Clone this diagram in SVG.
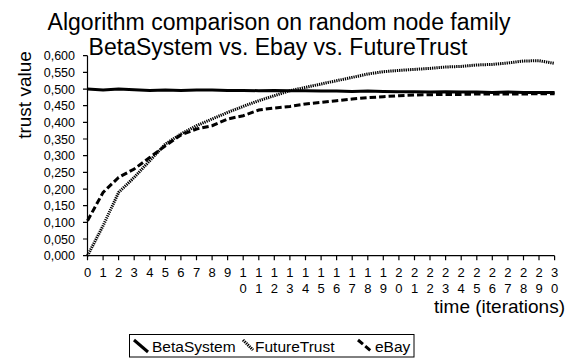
<svg xmlns="http://www.w3.org/2000/svg" width="575" height="358" viewBox="0 0 575 358">
<style>
text{font-family:"Liberation Sans",Arial,sans-serif;fill:#000}
.title{font-size:23px;text-anchor:middle}
.ax{font-size:19px}
.yl{font-size:12.5px;text-anchor:end}
.xl{font-size:13px;text-anchor:middle}
.lg{font-size:15.5px}
.axis{stroke:#000;stroke-width:1.2;fill:none}
.beta{stroke:#000;stroke-width:3;fill:none}
.ft{stroke:#000;stroke-width:3;fill:none;stroke-dasharray:1.3 0.9}
.eb{stroke:#000;stroke-width:3;fill:none;stroke-dasharray:6.5 3}
</style>
<rect width="575" height="358" fill="#fff"/>
<g id="title">
<text class="title" x="279" y="30">Algorithm comparison on random node family</text>
<text class="title" x="278" y="55">BetaSystem vs. Ebay vs. FutureTrust</text>
</g>
<g id="y-axis">
<text class="ax" transform="translate(31,95) rotate(-90)" text-anchor="middle">trust value</text>
<path class="axis" d="M87.5,55.7V255.7M83,55.7H87.5M83,72.4H87.5M83,89.1H87.5M83,105.7H87.5M83,122.4H87.5M83,139H87.5M83,155.7H87.5M83,172.4H87.5M83,189.1H87.5M83,205.7H87.5M83,222.4H87.5M83,239H87.5M83,255.7H87.5"/>
<text class="yl" x="75" y="60.2">0,600</text>
<text class="yl" x="75" y="76.9">0,550</text>
<text class="yl" x="75" y="93.6">0,500</text>
<text class="yl" x="75" y="110.2">0,450</text>
<text class="yl" x="75" y="126.9">0,400</text>
<text class="yl" x="75" y="143.5">0,350</text>
<text class="yl" x="75" y="160.2">0,300</text>
<text class="yl" x="75" y="176.9">0,250</text>
<text class="yl" x="75" y="193.6">0,200</text>
<text class="yl" x="75" y="210.2">0,150</text>
<text class="yl" x="75" y="226.9">0,100</text>
<text class="yl" x="75" y="243.5">0,050</text>
<text class="yl" x="75" y="260.2">0,000</text>
</g>
<g id="x-axis">
<path class="axis" d="M87.5,255.7H554.6M87.5,255.7v4.5M103.1,255.7v4.5M118.6,255.7v4.5M134.2,255.7v4.5M149.8,255.7v4.5M165.4,255.7v4.5M180.9,255.7v4.5M196.5,255.7v4.5M212.1,255.7v4.5M227.6,255.7v4.5M243.2,255.7v4.5M258.8,255.7v4.5M274.3,255.7v4.5M289.9,255.7v4.5M305.5,255.7v4.5M321.1,255.7v4.5M336.6,255.7v4.5M352.2,255.7v4.5M367.8,255.7v4.5M383.3,255.7v4.5M398.9,255.7v4.5M414.5,255.7v4.5M430,255.7v4.5M445.6,255.7v4.5M461.2,255.7v4.5M476.8,255.7v4.5M492.3,255.7v4.5M507.9,255.7v4.5M523.5,255.7v4.5M539,255.7v4.5M554.6,255.7v4.5"/>
<text class="xl" y="276.7"><tspan x="87.5">0</tspan><tspan x="103.1">1</tspan><tspan x="118.6">2</tspan><tspan x="134.2">3</tspan><tspan x="149.8">4</tspan><tspan x="165.4">5</tspan><tspan x="180.9">6</tspan><tspan x="196.5">7</tspan><tspan x="212.1">8</tspan><tspan x="227.6">9</tspan><tspan x="243.2">1</tspan><tspan x="258.8">1</tspan><tspan x="274.3">1</tspan><tspan x="289.9">1</tspan><tspan x="305.5">1</tspan><tspan x="321.1">1</tspan><tspan x="336.6">1</tspan><tspan x="352.2">1</tspan><tspan x="367.8">1</tspan><tspan x="383.3">1</tspan><tspan x="398.9">2</tspan><tspan x="414.5">2</tspan><tspan x="430">2</tspan><tspan x="445.6">2</tspan><tspan x="461.2">2</tspan><tspan x="476.8">2</tspan><tspan x="492.3">2</tspan><tspan x="507.9">2</tspan><tspan x="523.5">2</tspan><tspan x="539">2</tspan><tspan x="554.6">3</tspan></text>
<text class="xl" y="293.3"><tspan x="243.2">0</tspan><tspan x="258.8">1</tspan><tspan x="274.3">2</tspan><tspan x="289.9">3</tspan><tspan x="305.5">4</tspan><tspan x="321.1">5</tspan><tspan x="336.6">6</tspan><tspan x="352.2">7</tspan><tspan x="367.8">8</tspan><tspan x="383.3">9</tspan><tspan x="398.9">0</tspan><tspan x="414.5">1</tspan><tspan x="430">2</tspan><tspan x="445.6">3</tspan><tspan x="461.2">4</tspan><tspan x="476.8">5</tspan><tspan x="492.3">6</tspan><tspan x="507.9">7</tspan><tspan x="523.5">8</tspan><tspan x="539">9</tspan><tspan x="554.6">0</tspan></text>
<text class="ax" x="565" y="313" text-anchor="end">time (iterations)</text>
</g>
<g id="series">
<polyline id="futuretrust" class="ft" points="87.5,255.7 103.1,225.7 118.6,192.4 134.2,177.4 149.8,160.7 165.4,144 180.9,134 196.5,125.7 212.1,119 227.6,112.4 243.2,106.4 258.8,100.7 274.3,95.7 289.9,90.7 305.5,87.4 321.1,84 336.6,80.7 352.2,77.4 367.8,74 383.3,71.7 398.9,70.4 414.5,69.4 430,68.4 445.6,67 461.2,66.4 476.8,65 492.3,64.4 507.9,63 523.5,61 539,60.7 554.6,63.4"/>
<polyline id="ebay" class="eb" points="87.5,220.7 103.1,192.4 118.6,177.4 134.2,169 149.8,157.4 165.4,145.7 180.9,135 196.5,129 212.1,125.7 227.6,119 243.2,115.7 258.8,110 274.3,108 289.9,106.4 305.5,104 321.1,102.4 336.6,100.7 352.2,99 367.8,97.7 383.3,96.7 398.9,95.7 414.5,95 430,94.7 445.6,94.4 461.2,94.4 476.8,94 492.3,94 507.9,94 523.5,94 539,93.7 554.6,93.7"/>
<polyline id="betasystem" class="beta" points="87.5,89.1 103.1,90 118.6,89.1 134.2,89.7 149.8,90.4 165.4,90 180.9,90.4 196.5,90 212.1,90 227.6,90.4 243.2,90.4 258.8,90.7 274.3,90.4 289.9,90.7 305.5,90.7 321.1,91 336.6,91 352.2,91.4 367.8,91 383.3,91.4 398.9,91.7 414.5,91.7 430,92 445.6,91.7 461.2,92 476.8,92 492.3,92.4 507.9,92 523.5,92.4 539,92.4 554.6,92.4"/>
</g>
<g id="legend">
<rect x="129.5" y="334.5" width="284.5" height="22.5" fill="#fff" stroke="#000" stroke-width="1"/>
<line class="beta" x1="134" y1="340" x2="148" y2="352"/>
<text class="lg" x="152" y="351.5">BetaSystem</text>
<line class="ft" x1="243" y1="340" x2="253" y2="350"/>
<text class="lg" x="255" y="351.5">FutureTrust</text>
<line class="eb" x1="358" y1="340" x2="371" y2="351"/>
<text class="lg" x="375" y="351.5">eBay</text>
</g>
</svg>
